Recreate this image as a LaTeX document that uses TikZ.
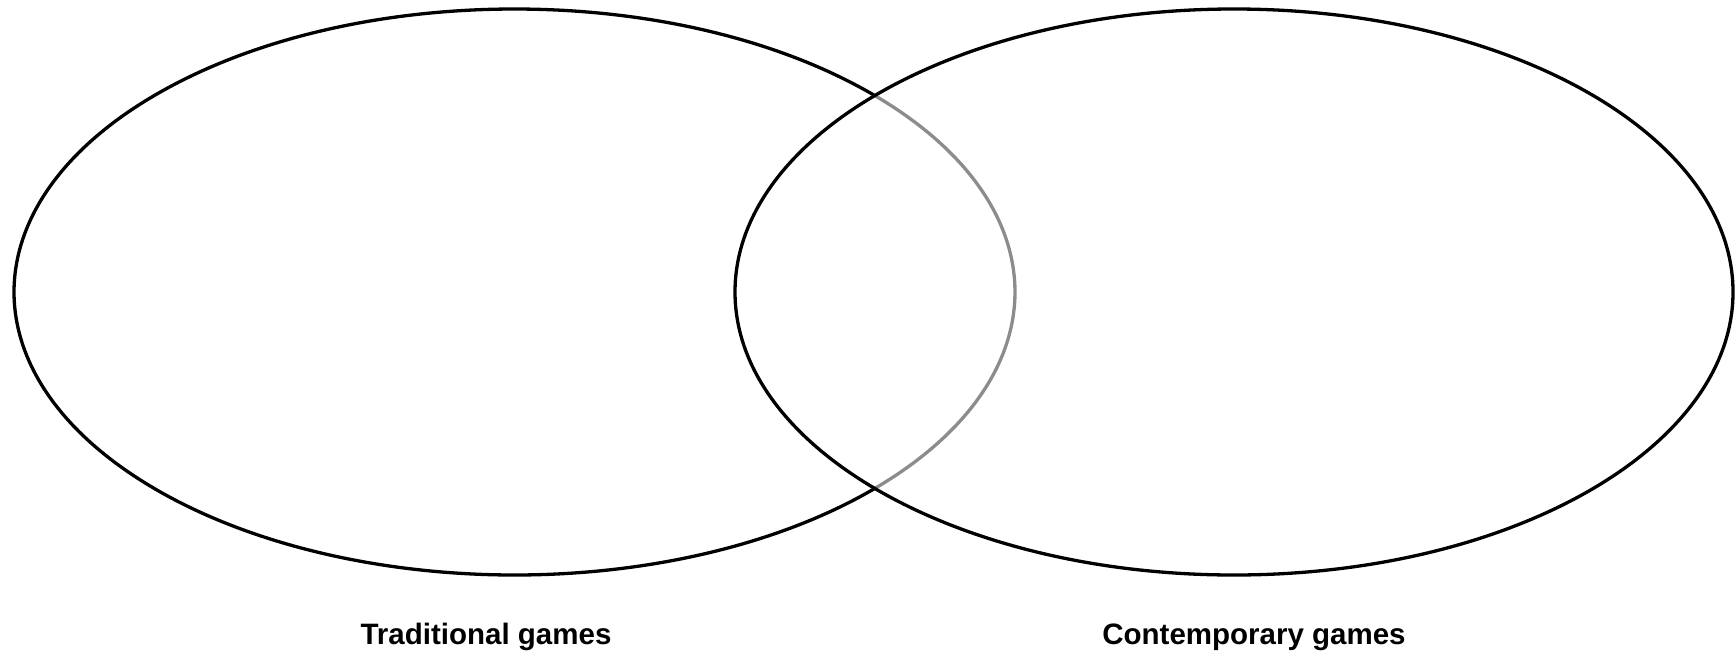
\documentclass[tikz,border=0pt]{standalone}
\usepackage{fontspec}
\setmainfont{Liberation Sans}
\begin{document}
\begin{tikzpicture}[x=1pt,y=-1pt,
  outline/.style={line width=3.3pt,draw=black},
  inner/.style={line width=3.3pt,draw=black!45},
  label/.style={font=\fontsize{29.5}{35}\selectfont\bfseries,inner sep=0pt,anchor=base}]
\useasboundingbox (0,0) rectangle (1736,651);
\coordinate (L) at (514.5,292);
\coordinate (R) at (1234,292);
% gray part of left ellipse (inside right one)
\draw[inner] (L) ++(43.95:500.5 and -283) arc[start angle=43.95,end angle=-43.95,x radius=500.5,y radius=-283];
% right ellipse
\draw[outline] (R) ellipse[x radius=499,y radius=283];
% black part of left ellipse
\draw[outline] (L) ++(43.95:500.5 and -283) arc[start angle=43.95,end angle=316.05,x radius=500.5,y radius=-283];
\node[label] (tl) at (486,644) {Traditional games};
\node[label] (tr) at (1254,644) {Contemporary games};
\end{tikzpicture}
\end{document}
